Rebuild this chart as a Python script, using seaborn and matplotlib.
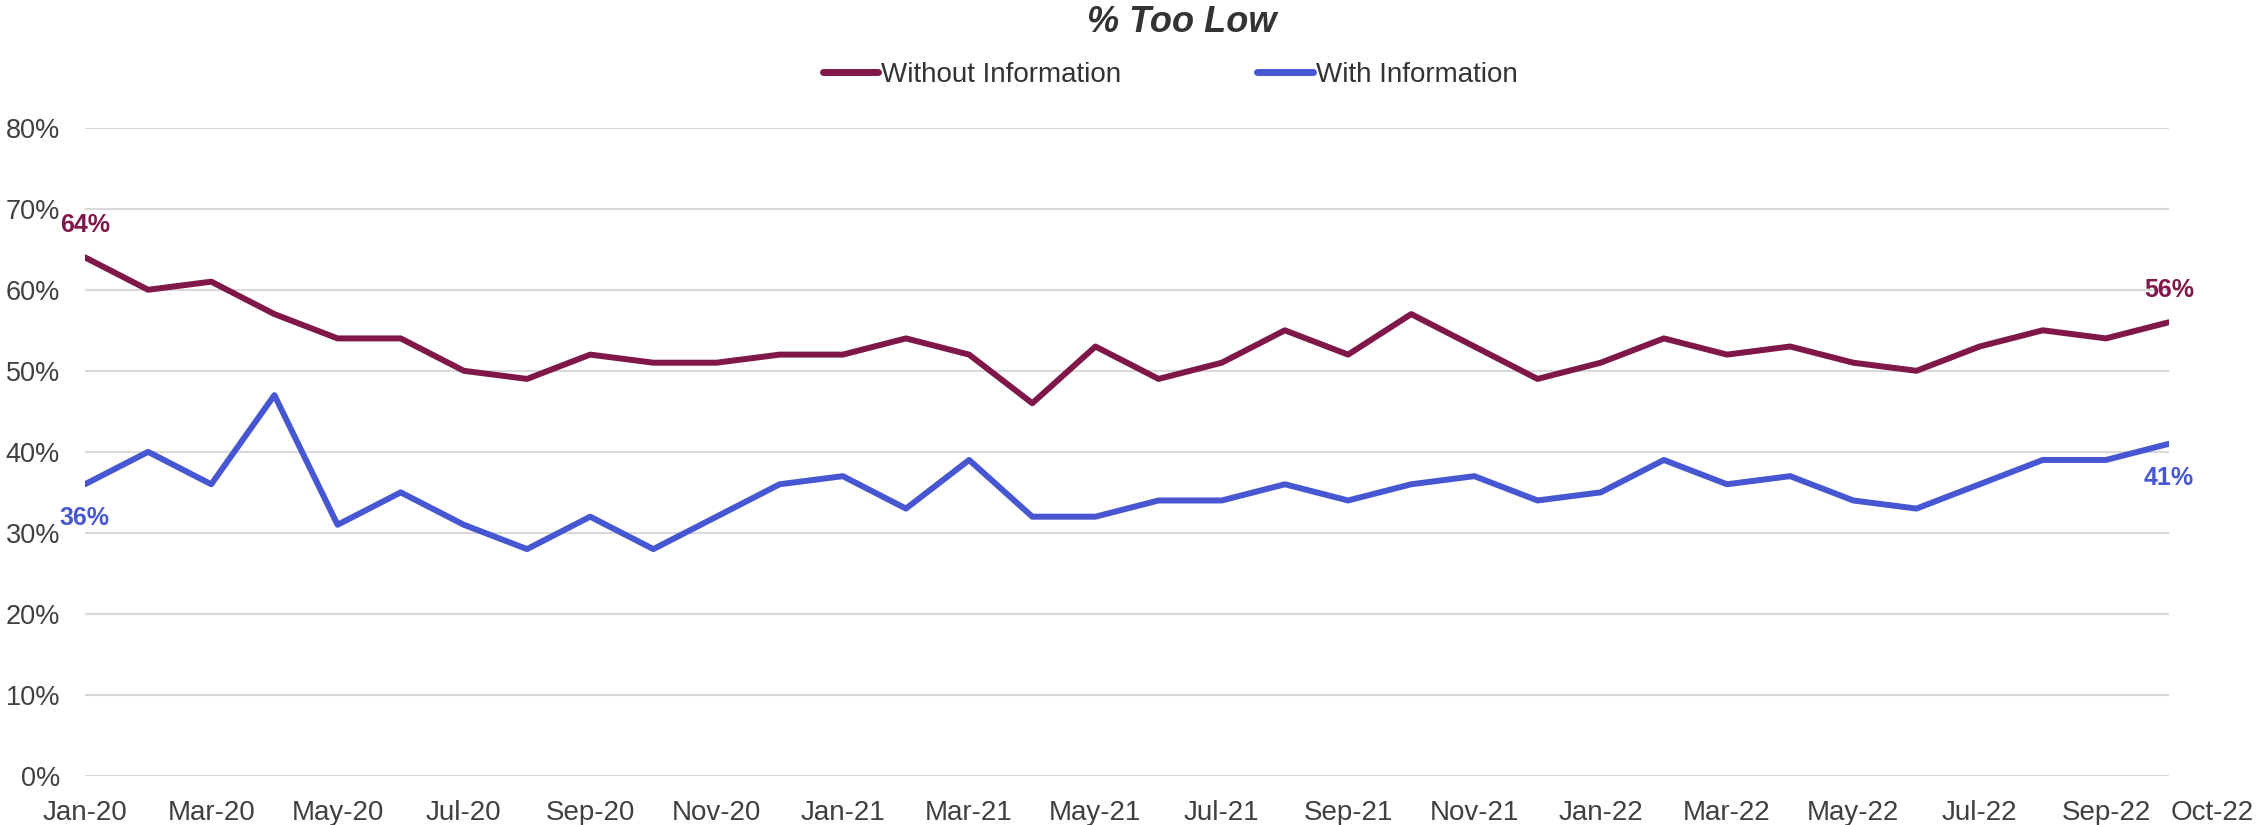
import matplotlib
matplotlib.use("Agg")
import matplotlib.pyplot as plt
import matplotlib.transforms as mtransforms
import pandas as pd
import seaborn as sns

# month labels Jan-20 .. Oct-22
months = [d.strftime("%b-%y") for d in pd.date_range("2020-01-01", periods=34, freq="MS")]

without_info = [64, 60, 61, 57, 54, 54, 50, 49, 52, 51, 51, 52,
                52, 54, 52, 46, 53, 49, 51, 55, 52, 57, 53, 49,
                51, 54, 52, 53, 51, 50, 53, 55, 54, 56]
with_info = [36, 40, 36, 47, 31, 35, 31, 28, 32, 28, 32, 36,
             37, 33, 39, 32, 32, 34, 34, 36, 34, 36, 37, 34,
             35, 39, 36, 37, 34, 33, 36, 39, 39, 41]

series_names = ["Without Information", "With Information"]
colors = {"Without Information": "#80174A", "With Information": "#4757D1"}

df = pd.DataFrame({
    "idx": list(range(len(months))) * 2,
    "value": [v / 100 for v in without_info] + [v / 100 for v in with_info],
    "series": [series_names[0]] * len(months) + [series_names[1]] * len(months),
})

sns.set_style("white")
plt.rcParams["font.family"] = ["Liberation Sans", "DejaVu Sans"]

fig = plt.figure(figsize=(22.59, 8.25), dpi=100)
ax = fig.add_axes([0.0376, 0.0594, 0.9226, 0.7858])

sns.lineplot(data=df, x="idx", y="value", hue="series", palette=colors,
             hue_order=series_names, linewidth=4.3, ax=ax)

ax.set_xlim(0, len(months) - 1)
ax.set_ylim(0, 0.8)
ax.set_yticks([i / 10 for i in range(9)])
ax.set_yticklabels([f"{i * 10}%" for i in range(9)])
ax.grid(axis="y", color="#D9D9D9", linewidth=1.5)
ax.set_axisbelow(True)
for s in ax.spines.values():
    s.set_visible(False)
ax.set_xlabel("")
ax.set_ylabel("")

xt = list(range(0, len(months), 2)) + [len(months) - 1]
ax.set_xticks(xt)
ax.set_xticklabels([months[i] for i in xt])
ax.tick_params(axis="x", length=0, pad=17, labelsize=20, labelcolor="#404040")
ax.tick_params(axis="y", length=0, pad=18, labelsize=19.5, labelcolor="#404040")

# Oct-22 label is pushed right like in the original
last = ax.get_xticklabels()[-1]
last.set_transform(last.get_transform() + mtransforms.ScaledTranslation(0.43, 0, fig.dpi_scale_trans))

# end point labels
off = mtransforms.offset_copy
for name, vals, dy in [(series_names[0], without_info, 32), (series_names[1], with_info, -34)]:
    for i in (0, len(vals) - 1):
        ax.text(i, vals[i] / 100, f"{vals[i]}%", color=colors[name], fontsize=18,
                fontweight="bold", ha="center", va="center",
                transform=off(ax.transData, fig=fig, x=0, y=dy, units="dots"))

fig.text(0.523, 0.973, "% Too Low", ha="center", va="center", fontsize=26,
         fontweight="bold", fontstyle="italic", color="#333333")

sns.move_legend(ax, "center", bbox_to_anchor=(0.518, 0.909), bbox_transform=fig.transFigure,
                ncol=2, frameon=False, title=None, fontsize=20, handlelength=2.0,
                handletextpad=0.1, columnspacing=4.9)
for h in ax.get_legend().get_lines():
    h.set_linewidth(5)
for t in ax.get_legend().get_texts():
    t.set_color("#333333")

fig.savefig("out.png", dpi=100)
